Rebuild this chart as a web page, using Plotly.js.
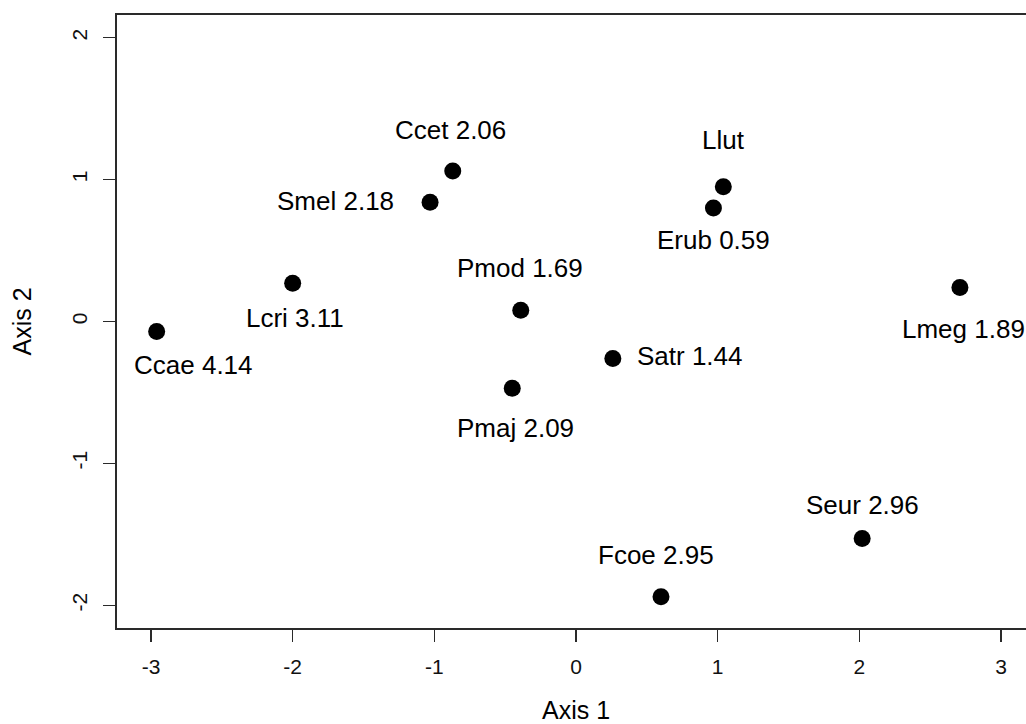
<!DOCTYPE html>
<html>
<head>
<meta charset="utf-8">
<script src="https://cdn.plot.ly/plotly-3.0.1.min.js"></script>
<style>
html,body{margin:0;padding:0;background:#fff;overflow:hidden;width:1026px;height:724px;}
#wrap{width:1026px;height:724px;overflow:hidden;position:relative;}
#chart{width:1037px;height:724px;}
</style>
</head>
<body>
<div id="wrap"><div id="chart"></div></div>
<script>
// Species codes, ordination scores and attached values
const species = ["Ccae","Lcri","Smel","Ccet","Llut","Erub","Pmod","Satr","Pmaj","Lmeg","Fcoe","Seur"];
const axis1   = [-2.96, -2.00, -1.03, -0.87, 1.04, 0.97, -0.39, 0.26, -0.45, 2.71, 0.60, 2.02];
const axis2   = [-0.07, 0.27, 0.84, 1.06, 0.95, 0.80, 0.08, -0.26, -0.47, 0.24, -1.94, -1.53];
const scores  = ["4.14","3.11","2.18","2.06",null,"0.59","1.69","1.44","2.09","1.89","2.95","2.96"];
const xTicks  = [-3,-2,-1,0,1,2,3];
const yTicks  = [-2,-1,0,1,2];

// label pixel offsets (dx right, dy down) relative to each point
const labelOffsets = {
  Ccae:[37,36], Lcri:[2,37], Smel:[-95,1], Ccet:[-2,-39], Llut:[0,-45], Erub:[0,34],
  Pmod:[-1,-40], Satr:[77,0], Pmaj:[3,42], Lmeg:[4,44], Fcoe:[-5,-40], Seur:[0,-32]
};

const labels = species.map((s,i)=> scores[i] ? s + " " + scores[i] : s);

const FONT = "Liberation Sans, Arial, Helvetica, sans-serif";
const annotations = species.map((s,i)=>({
  x: axis1[i], y: axis2[i], xref:"x", yref:"y",
  text: labels[i], showarrow:false,
  xanchor:"center", yanchor:"middle",
  xshift: labelOffsets[s][0], yshift: -labelOffsets[s][1] + 2,
  font:{family:FONT, size:26, color:"#000"}
}));

const trace = {
  x: axis1, y: axis2, mode:"markers", type:"scatter",
  marker:{size:17, color:"#000", line:{width:0}},
  hoverinfo:"skip", showlegend:false
};

const axisCommon = {
  showgrid:false, zeroline:false, showline:true, mirror:true,
  linecolor:"#2a2a2a", linewidth:2, ticks:"outside", ticklen:12, tickwidth:1.5,
  tickcolor:"#2a2a2a", tickfont:{family:FONT, size:21, color:"#111"}
};

const layout = {
  width:1037, height:724,
  margin:{l:117, r:2, t:15, b:96},
  paper_bgcolor:"#fff", plot_bgcolor:"#fff",
  xaxis: Object.assign({}, axisCommon, {
    range:[-3.24,3.24], tickmode:"array", tickvals:xTicks, ticktext:xTicks.map(String),
    ticklabelstandoff:7,
    title:{text:"Axis 1", font:{family:FONT, size:25, color:"#000"}, standoff:44}
  }),
  yaxis: Object.assign({}, axisCommon, {
    range:[-2.16,2.16], tickmode:"array", tickvals:yTicks, ticktext:yTicks.map(String),
    tickangle:-90, ticklabelstandoff:8,
    title:{text:"Axis 2", font:{family:FONT, size:25, color:"#000"}, standoff:29}
  }),
  annotations: annotations
};

Plotly.newPlot("chart", [trace], layout, {displayModeBar:false, staticPlot:true});
</script>
</body>
</html>
